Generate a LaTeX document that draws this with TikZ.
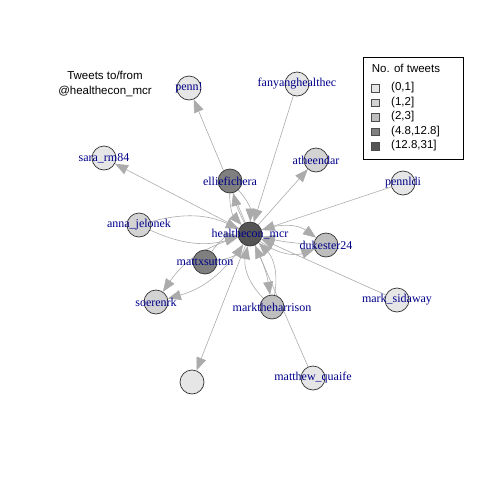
\documentclass[tikz,border=0pt]{standalone}
\usepackage{fontspec}
\setmainfont{Liberation Serif}
\setsansfont{Liberation Sans}
\usetikzlibrary{arrows.meta}
\pgfdeclarelayer{bg}
\pgfsetlayers{bg,main}
\definecolor{tw1}{HTML}{E6E6E6}
\definecolor{tw2}{HTML}{D3D3D3}
\definecolor{tw3}{HTML}{BEBEBE}
\definecolor{tw4}{HTML}{7F7F7F}
\definecolor{tw5}{HTML}{555555}
\definecolor{egrey}{HTML}{ABABAB}
\definecolor{vblue}{HTML}{00008B}
\tikzset{
  vtx/.style={circle,draw=black!80,line width=0.7pt,minimum size=24pt,inner sep=0pt},
  vlbl/.style={font=\fontsize{12}{14}\selectfont,text=vblue,inner sep=0pt},
  edg/.style={-{Triangle[length=13pt,width=10pt]},draw=egrey,line width=0.6pt},
  lgtxt/.style={font=\sffamily\fontsize{11.5}{14}\selectfont,inner sep=0pt},
}
\begin{document}
\begin{tikzpicture}[x=1pt,y=-1pt]
\useasboundingbox (0,0) rectangle (480,480);
% title
\node[font=\sffamily\fontsize{11.5}{15}\selectfont,align=center] (ttl) at (105,84)
  {Tweets to/from\\@healthecon\_mcr};
% vertices
\node[vtx,fill=tw5,label={[vlbl]center:healthecon\_mcr}] (hcm) at (250,234) {};
\node[vtx,fill=tw1,label={[vlbl]center:penn!}] (pen) at (189,88) {};
\node[vtx,fill=tw1,label={[vlbl]center:fanyanghealthec}] (fyh) at (297,84) {};
\node[vtx,fill=tw2,label={[vlbl]center:atheendar}] (ath) at (316,160) {};
\node[vtx,fill=tw1,label={[vlbl]center:pennldi}] (pld) at (403,183) {};
\node[vtx,fill=tw1,label={[vlbl]center:sara\_rm84}] (sar) at (104,158) {};
\node[vtx,fill=tw4,label={[vlbl]center:elliefichera}] (elf) at (230,181) {};
\node[vtx,fill=tw2,label={[vlbl]center:anna\_jelonek}] (ajl) at (139,225) {};
\node[vtx,fill=tw3,label={[vlbl]center:dukester24}] (duk) at (326,245) {};
\node[vtx,fill=tw4,label={[vlbl]center:mattxsutton}] (mxs) at (205,262) {};
\node[vtx,fill=tw2,label={[vlbl]center:soerenrk}] (srk) at (156,302) {};
\node[vtx,fill=tw3,label={[vlbl]center:marktheharrison}] (mth) at (272,307) {};
\node[vtx,fill=tw1,label={[vlbl]center:mark\_sidaway}] (msd) at (397,300) {};
\node[vtx,fill=tw1,label={[vlbl]center:matthew\_quaife}] (mqf) at (313,378) {};
\node[vtx,fill=tw1] (anon) at (192,382) {};
% edges
\begin{pgfonlayer}{bg}
\foreach \a/\b in {hcm/pen,fyh/hcm,hcm/ath,pld/hcm,hcm/sar,msd/hcm,mqf/hcm,hcm/anon}
  \draw[edg] (\a) -- (\b);
\foreach \a/\b/\c in {elf/hcm/22,elf/hcm/-22,hcm/elf/6,ajl/hcm/20,ajl/hcm/-20,
    hcm/duk/28,hcm/duk/-28,duk/hcm/5,mxs/hcm/25,mxs/hcm/-25,hcm/srk/20,hcm/srk/-20,
    mth/hcm/28,mth/hcm/-28,hcm/mth/8}
  \draw[edg] (\a) to[bend left=\c] (\b);
\end{pgfonlayer}
% legend
\node[draw,line width=0.8pt,minimum width=100pt,minimum height=102pt,anchor=north west] (lgd) at (363,57) {};
\node[lgtxt] (lgttl) at (406,68) {No. of tweets};
\foreach \c/\t [count=\i] in {tw1/{(0,1]},tw2/{(1,2]},tw3/{(2,3]},tw4/{(4.8,12.8]},tw5/{(12.8,31]}}{
  \node[draw=black!70,fill=\c,minimum size=7.5pt,inner sep=0pt] (sq\i) at (375,73.5+14.5*\i) {};
  \node[lgtxt,anchor=west] (it\i) at (391,73.5+14.5*\i) {\t};
}
\end{tikzpicture}
\end{document}
